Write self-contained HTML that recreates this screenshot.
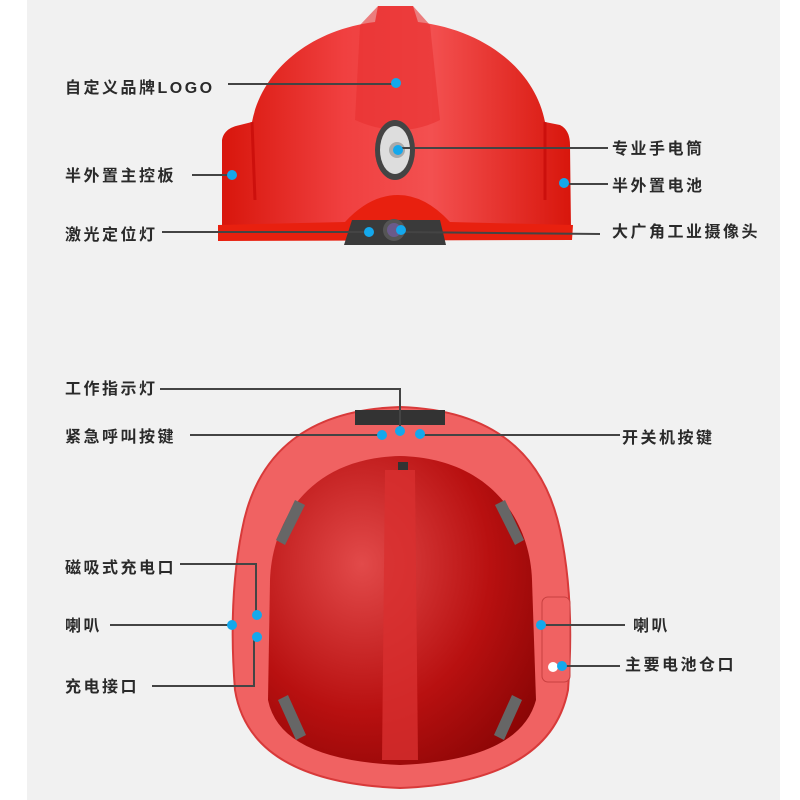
<!DOCTYPE html>
<html><head><meta charset="utf-8"><style>
body{margin:0;width:800px;height:800px;background:#fff;overflow:hidden}
svg{display:block}
text{font-family:"Liberation Sans","Noto Sans CJK SC",sans-serif;font-size:16px;fill:#2a2a2a;font-weight:bold;letter-spacing:2.5px}
</style></head><body>
<svg width="800" height="800" viewBox="0 0 800 800">
<defs>
<linearGradient id="dome" x1="0" x2="1"><stop offset="0" stop-color="#d8160c"/><stop offset="0.35" stop-color="#f04040"/><stop offset="0.6" stop-color="#f35050"/><stop offset="1" stop-color="#d8160c"/></linearGradient>
<radialGradient id="bowl" cx="0.35" cy="0.35" r="0.8"><stop offset="0" stop-color="#e24a4a"/><stop offset="0.6" stop-color="#b81010"/><stop offset="1" stop-color="#8a0505"/></radialGradient>
</defs>
<rect x="27" y="0" width="753" height="800" fill="#f1f1f1"/>
<!-- top helmet -->
<path d="M222 230 L222 140 Q224 128 240 125 L252 122 C262 70 310 30 375 22 L378 6 L413 6 L418 22 C485 30 535 70 545 122 L560 125 Q570 130 570 145 L571 230 Z" fill="url(#dome)"/>
<path d="M360 25 L378 6 L413 6 L430 25 L440 120 Q400 140 355 120 Z" fill="#e83030" opacity="0.6"/>
<path d="M252 122 L255 200 M545 122 L545 200" stroke="#b00" stroke-width="3" fill="none" opacity="0.5"/>
<path d="M218 225 L345 222 Q370 195 398 195 Q425 195 450 222 L573 225 L572 240 L218 241 Z" fill="#e8200f"/>
<ellipse cx="395" cy="150" rx="20" ry="30" fill="#444"/>
<ellipse cx="395" cy="150" rx="15" ry="24" fill="#ddd"/>
<circle cx="397" cy="150" r="8" fill="#aaa"/>
<path d="M352 220 L440 220 L446 245 L344 245 Z" fill="#3a3a3a"/>
<circle cx="394" cy="230" r="11" fill="#555"/><circle cx="394" cy="230" r="7" fill="#6a5a8a"/>
<!-- bottom helmet -->
<path d="M400 407 C500 410 545 460 560 530 Q575 600 568 690 Q550 782 400 788 Q250 782 235 690 Q228 600 242 530 C255 460 300 410 400 407 Z" fill="#f06262" stroke="#d83a3a" stroke-width="2"/>
<path d="M355 410 L445 410 L445 425 L355 425 Z" fill="#333"/>
<path d="M400 456 C490 458 530 520 532 580 L536 700 Q520 760 400 765 Q280 760 268 700 L270 580 C272 520 310 458 400 456 Z" fill="url(#bowl)"/>
<path d="M385 470 L415 470 L418 760 L382 760 Z" fill="#d83030" opacity="0.8"/>
<path d="M295 500 L305 505 L285 545 L276 540 Z M505 500 L495 505 L515 545 L524 540 Z M278 700 L288 695 L306 735 L296 740 Z M522 700 L512 695 L494 735 L504 740 Z" fill="#666"/>
<rect x="542" y="597" width="28" height="85" rx="6" fill="#f06262" stroke="#c84040"/>
<circle cx="553" cy="667" r="5" fill="#fff"/>
<rect x="398" y="462" width="10" height="8" fill="#333"/>
<!-- connectors -->
<g stroke="#444" stroke-width="2" fill="none">
<path d="M228 84 H395"/><path d="M192 175 H232"/><path d="M162 232 H369"/><path d="M400 232 L600 234"/>
<path d="M398 148 H608"/><path d="M565 184 H608"/>
<path d="M160 389 H400 V431"/><path d="M190 435 H382"/><path d="M420 435 H620"/>
<path d="M180 564 H256 V615"/><path d="M110 625 H232"/><path d="M152 686 H254 V637"/>
<path d="M541 625 H625"/><path d="M562 666 H620"/>
</g>
<g fill="#14a8ec">
<circle cx="396" cy="83" r="5"/><circle cx="232" cy="175" r="5"/><circle cx="369" cy="232" r="5"/><circle cx="401" cy="230" r="5"/>
<circle cx="398" cy="150" r="5"/><circle cx="564" cy="183" r="5"/>
<circle cx="400" cy="431" r="5"/><circle cx="382" cy="435" r="5"/><circle cx="420" cy="434" r="5"/>
<circle cx="257" cy="615" r="5"/><circle cx="232" cy="625" r="5"/><circle cx="257" cy="637" r="5"/>
<circle cx="541" cy="625" r="5"/><circle cx="562" cy="666" r="5"/>
</g>
<text x="65" y="93">自定义品牌LOGO</text>
<text x="65" y="181">半外置主控板</text>
<text x="65" y="240">激光定位灯</text>
<text x="612" y="154">专业手电筒</text>
<text x="612" y="191">半外置电池</text>
<text x="612" y="237">大广角工业摄像头</text>
<text x="65" y="394">工作指示灯</text>
<text x="65" y="442">紧急呼叫按键</text>
<text x="622" y="443">开关机按键</text>
<text x="65" y="573">磁吸式充电口</text>
<text x="65" y="631">喇叭</text>
<text x="65" y="692">充电接口</text>
<text x="633" y="631">喇叭</text>
<text x="625" y="670">主要电池仓口</text>
</svg>
</body></html>
